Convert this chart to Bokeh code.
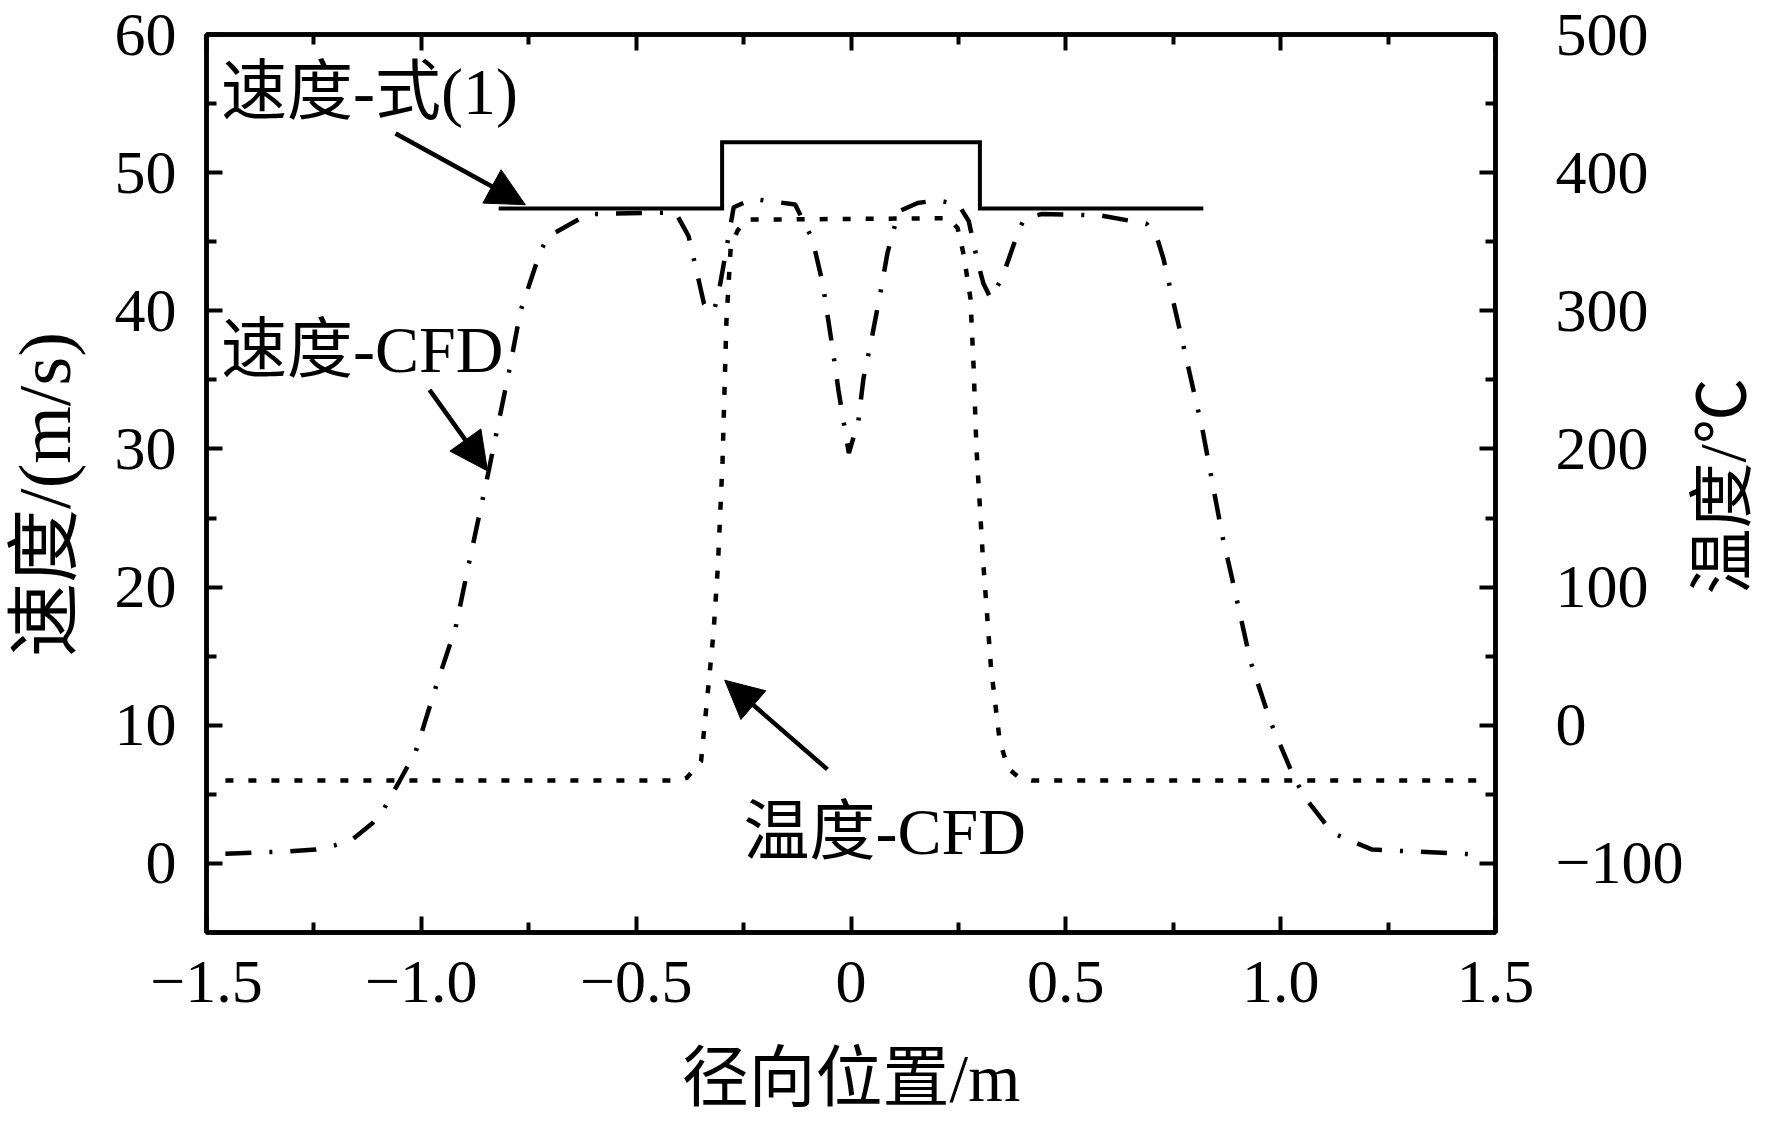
import math
from bokeh.plotting import figure
from bokeh.models import Range1d, LinearAxis, FixedTicker, Label, Arrow, NormalHead
from bokeh.embed import file_html
from bokeh.resources import INLINE

# ---------------- data ----------------
formula_x = [-0.82, -0.30, -0.30, 0.30, 0.30, 0.82]
formula_v = [47.4, 47.4, 52.2, 52.2, 47.4, 47.4]

cfd_v_x = [-1.456, -1.309, -1.246, -1.202, -1.160, -1.114, -1.088, -1.050, -1.013, -0.967,
           -0.920, -0.888, -0.846, -0.796, -0.769, -0.723, -0.704, -0.612, -0.455, -0.408,
           -0.378, -0.342, -0.320, -0.308, -0.273, -0.229, -0.130, -0.090, -0.066, -0.043,
           -0.029, -0.005, 0.017, 0.029, 0.050, 0.069, 0.085, 0.111, 0.155, 0.200,
           0.250, 0.274, 0.295, 0.308, 0.325, 0.352, 0.390, 0.404, 0.443, 0.582,
           0.688, 0.713, 0.727, 0.780, 0.818, 0.865, 0.885, 0.930, 0.977, 1.030,
           1.056, 1.121, 1.213, 1.456]
cfd_v = [0.7, 0.87, 1.0, 1.3, 1.74, 2.9, 3.9, 6.0, 8.1, 12.7,
         17.1, 21.9, 28.0, 35.6, 40.0, 44.3, 45.4, 47.0, 47.1, 47.1,
         45.4, 40.5, 39.9, 41.3, 47.5, 48.1, 47.7, 45.2, 42.0, 37.3,
         34.2, 29.7, 32.0, 35.1, 38.3, 41.4, 44.2, 47.2, 47.8, 48.0,
         47.7, 46.5, 43.5, 42.0, 40.9, 42.4, 45.8, 46.7, 47.0, 46.9,
         46.3, 45.2, 43.8, 36.6, 31.4, 23.6, 20.9, 14.6, 10.2, 6.3,
         4.8, 2.2, 1.0, 0.65]

cfd_t_x = [-1.456, -0.400, -0.382, -0.349, -0.336, -0.320, -0.310, -0.299, -0.290, -0.280,
           -0.264, -0.243, 0.227, 0.248, 0.262, 0.278, 0.285, 0.292, 0.307, 0.326,
           0.346, 0.365, 0.392, 0.420, 1.456]
cfd_t = [-40, -40, -38, -26, 15, 67, 114, 191, 292, 346,
         358, 366, 367, 360, 341, 309, 262, 200, 121, 41,
         -11, -31, -38, -40, -40]

XTICKS = [-1.5, -1.0, -0.5, 0.0, 0.5, 1.0, 1.5]
XTICK_LABELS = ["\u22121.5", "\u22121.0", "\u22120.5", "0", "0.5", "1.0", "1.5"]
XMINOR = [-1.25, -0.75, -0.25, 0.25, 0.75, 1.25]
VTICKS = [0, 10, 20, 30, 40, 50, 60]
VTICK_LABELS = ["0", "10", "20", "30", "40", "50", "60"]
VMINOR = [5, 15, 25, 35, 45, 55]
TTICKS = [-100, 0, 100, 200, 300, 400, 500]
TTICK_LABELS = ["\u2212100", "0", "100", "200", "300", "400", "500"]
TMINOR = [-50, 50, 150, 250, 350, 450]

FONT = "Liberation Serif, Noto Sans CJK SC"

# ---------------- figure ----------------
p = figure(width=1772, height=1121,
           x_range=Range1d(-1.5, 1.5), y_range=Range1d(-5, 60),
           output_backend="svg", toolbar_location=None,
           min_border_left=206, min_border_right=277,
           min_border_top=34, min_border_bottom=189)
p.extra_y_ranges = {"temp": Range1d(-150, 500)}
p.xgrid.visible = False
p.ygrid.visible = False
p.background_fill_color = "white"
p.border_fill_color = "white"
p.outline_line_color = "black"
p.outline_line_width = 4.5


def style_axis(ax, ticks, minor, labels, standoff):
    ax.ticker = FixedTicker(ticks=ticks, minor_ticks=minor)
    ax.major_label_overrides = {float(t): lab for t, lab in zip(ticks, labels)}
    ax.axis_line_width = 4.5
    ax.axis_line_color = "black"
    ax.major_tick_in = 16
    ax.major_tick_out = 0
    ax.minor_tick_in = 10
    ax.minor_tick_out = 0
    ax.major_tick_line_width = 4
    ax.minor_tick_line_width = 4
    ax.major_label_text_font = FONT
    ax.major_label_text_font_size = "62px"
    ax.major_label_text_color = "black"
    ax.major_label_standoff = standoff
    ax.axis_label_text_font = FONT
    ax.axis_label_text_font_style = "normal"
    ax.axis_label_text_color = "black"


xb = p.xaxis[0]
style_axis(xb, XTICKS, XMINOR, XTICK_LABELS, 29)
xb.axis_label = "径向位置/m"
xb.axis_label_text_font_size = "67px"
xb.axis_label_standoff = 36

yl = p.yaxis[0]
style_axis(yl, VTICKS, VMINOR, VTICK_LABELS, 30)

xt = LinearAxis()
style_axis(xt, XTICKS, XMINOR, [""] * len(XTICKS), 0)
p.add_layout(xt, "above")

yr = LinearAxis(y_range_name="temp")
style_axis(yr, TTICKS, TMINOR, TTICK_LABELS, 60)
p.add_layout(yr, "right")

# vertical axis titles, both reading bottom-to-top, placed in the side panels
p.add_layout(Label(x=-1.875, y=26.7, text="速度/(m/s)", angle=math.pi / 2,
                   text_font=FONT, text_font_size="74px", text_align="center",
                   text_baseline="middle", text_color="black"), "left")
p.add_layout(Label(x=2.028, y=27.3, text="温度/℃", angle=math.pi / 2,
                   text_font=FONT, text_font_size="66px", text_align="center",
                   text_baseline="middle", text_color="black"), "right")

# ---------------- series ----------------
p.line(formula_x, formula_v, line_width=4, line_color="black", line_join="miter")
p.line(cfd_v_x, cfd_v, line_width=4.5, line_color="black", line_dash="26 18 3 18")
p.line(cfd_t_x, cfd_t, line_width=4.5, line_color="black", line_dash="8 15",
       y_range_name="temp")

# ---------------- annotations ----------------
for tx, ty, txt in [(-1.466, 55.9, "速度-式(1)"),
                    (-1.466, 37.2, "速度-CFD"),
                    (-0.250, 2.3, "温度-CFD")]:
    p.add_layout(Label(x=tx, y=ty, text=txt, text_font=FONT, text_font_size="66px",
                       text_baseline="middle", text_align="left", text_color="black"))


def arrow(xs, ys, xe, ye):
    p.add_layout(Arrow(end=NormalHead(size=38, fill_color="black", line_color="black",
                                      line_width=1),
                       x_start=xs, y_start=ys, x_end=xe, y_end=ye,
                       line_width=4.5, line_color="black"))


arrow(-1.060, 52.83, -0.758, 47.68)
arrow(-0.981, 34.28, -0.846, 28.41)
arrow(-0.055, 6.81, -0.294, 13.26)

open("out.html", "w").write(file_html(p, INLINE))
